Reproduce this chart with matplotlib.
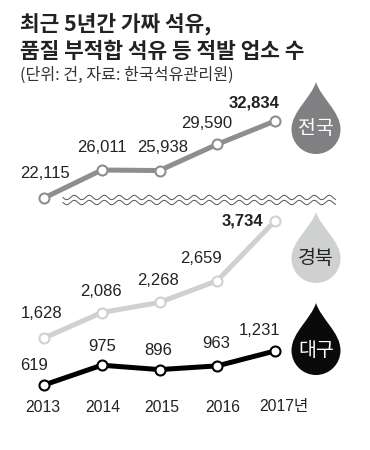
import numpy as np
import matplotlib
matplotlib.use("Agg")
import matplotlib.pyplot as plt
from matplotlib.path import Path
from matplotlib.patches import PathPatch

plt.rcParams['font.family'] = ['Noto Sans CJK KR', 'DejaVu Sans']

years = ["2013", "2014", "2015", "2016", "2017년"]
national = [22115, 26011, 25938, 29590, 32834]
gyeongbuk = [1628, 2086, 2268, 2659, 3734]
daegu = [619, 975, 896, 963, 1231]

W, H = 370, 450
fig = plt.figure(figsize=(W/100, H/100), dpi=100, facecolor="white")

ov = fig.add_axes([0, 0, 1, 1], zorder=3)
ov.set_xlim(0, W); ov.set_ylim(H, 0); ov.axis("off"); ov.patch.set_alpha(0)

NUM = ['Liberation Sans', 'Noto Sans CJK KR']

def value_axes(v0, py0, scale):
    ax = fig.add_axes([0, 0, 1, 1], zorder=2)
    ax.patch.set_alpha(0); ax.axis("off")
    step = (275 - 44) / 4
    ax.set_xlim(-44 / step, (W - 44) / step)
    ax.set_ylim(v0 - (H - py0) / scale, v0 + py0 / scale)
    return ax

ax_nat = value_axes(22115, 198, 77 / 10719)
ax_gb = value_axes(1628, 338, 0.0556)
ax_dg = value_axes(619, 385, 0.0556)

def series(ax, vals, color, offs, bold=()):
    x = np.arange(len(vals))
    ax.plot(x, vals, color=color, lw=3.6, solid_joinstyle="round", zorder=2,
            marker="o", ms=7.2, mfc="white", mec=color, mew=1.5)
    for i, v in enumerate(vals):
        dx, dy = offs[i]
        ax.annotate(f"{v:,}", (i, v), xytext=(dx * 0.72, -dy * 0.72),
                    textcoords="offset points", ha="center", va="center",
                    fontsize=12, color="#222222", family=NUM,
                    fontweight="bold" if i in bold else "normal")

series(ax_nat, national, "#8e8e90",
       [(1, -25), (0, -23), (3, -23), (-11, -21), (-21, -18)], bold=(4,))
series(ax_gb, gyeongbuk, "#cfd0d0",
       [(-2, -24), (-1, -21), (-2, -22), (-16, -22), (-33, 0)], bold=(4,))
series(ax_dg, daegu, "#000000",
       [(-10, -19), (0, -19), (-1, -19), (-1, -22), (-15, -20)])

for y, xp in zip(years, (43, 103, 162, 223, 284)):
    ov.text(xp, 407, y, ha="center", va="center", fontsize=11.3, color="#222222", family=NUM)

ov.text(20, 24, "최근 5년간 가짜 석유,", fontsize=15.4, fontweight="bold", color="#222222", va="center")
ov.text(20, 51, "품질 부적합 석유 등 적발 업소 수", fontsize=15.4, fontweight="bold", color="#222222", va="center")
ov.text(20, 75, "(단위: 건, 자료: 한국석유관리원)", fontsize=11.6, color="#333333", va="center")

xw = np.arange(63, 336, 0.5)
for y0 in (197.5, 202.5):
    yw = y0 + 2.2 * np.sin((xw - 63) * 2 * np.pi / 15)
    ov.plot(xw, yw, color="#555555", lw=0.7)

def drop(cx, tip, bottom, color):
    r = 24.5
    cy = bottom - r
    k = 0.5523 * r
    verts = [(cx, tip),
             (cx + 5, tip + 16), (cx + r, cy - 18), (cx + r, cy),
             (cx + r, cy + k), (cx + k, bottom), (cx, bottom),
             (cx - k, bottom), (cx - r, cy + k), (cx - r, cy),
             (cx - r, cy - 18), (cx - 5, tip + 16), (cx, tip), (cx, tip)]
    codes = [Path.MOVETO] + [Path.CURVE4] * 12 + [Path.CLOSEPOLY]
    ov.add_patch(PathPatch(Path(verts, codes), fc=color, ec="none"))

drop(316, 82, 154, "#808082")
drop(316, 212, 283, "#cfd0d0")
drop(316, 303, 375, "#0a0a0a")
ov.text(316, 128, "전국", color="white", fontsize=14, ha="center", va="center", fontweight="medium")
ov.text(316, 258, "경북", color="#222222", fontsize=14, ha="center", va="center", fontweight="medium")
ov.text(316, 351, "대구", color="white", fontsize=14, ha="center", va="center", fontweight="medium")

fig.savefig("out.png", dpi=100, facecolor="white")
